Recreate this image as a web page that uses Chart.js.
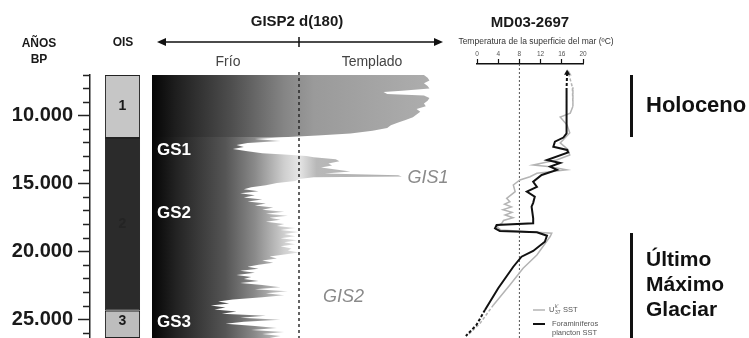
<!DOCTYPE html>
<html lang="es">
<head>
<meta charset="utf-8">
<title>GISP2 d(180) / MD03-2697</title>
<script src="https://cdn.jsdelivr.net/npm/chart.js@4.4.1/dist/chart.umd.min.js"></script>
<style>
  html, body { margin: 0; padding: 0; background: #fff; }
  #fig { position: relative; width: 749px; height: 338px; overflow: hidden; font-family: "Liberation Sans", Arial, Helvetica, sans-serif; color: #1a1a1a; }
  #fig canvas { position: absolute; top: 0; }
  .lbl { position: absolute; white-space: nowrap; transform: translate(-50%, -50%); line-height: 1; }
  .b { font-weight: bold; }
</style>
</head>
<body>
<div id="fig">
  <canvas id="c-ois" width="160" height="360" style="left:0"></canvas>
  <canvas id="c-gisp" width="320" height="360" style="left:140px"></canvas>
  <canvas id="c-sst" width="309" height="360" style="left:440px"></canvas>
  <div class="lbl b" style="left:39px;top:43px;font-size:12px">AÑOS</div>
  <div class="lbl b" style="left:39px;top:59px;font-size:12px">BP</div>
  <div class="lbl b" style="left:123px;top:42px;font-size:12px">OIS</div>
  <div class="lbl b" style="left:297px;top:20px;font-size:15px">GISP2 d(180)</div>
  <div class="lbl" style="left:228px;top:61px;font-size:14px;color:#444">Frío</div>
  <div class="lbl" style="left:372px;top:61px;font-size:14px;color:#444">Templado</div>
  <div class="lbl b" style="left:530px;top:21px;font-size:15px">MD03-2697</div>
  <div class="lbl" style="left:536px;top:41px;font-size:8.5px;color:#333">Temperatura de la superficie del mar (ºC)</div>
</div>
<script>
(function () {
  'use strict';

  var FONT = '"Liberation Sans", Arial, Helvetica, sans-serif';
  Chart.defaults.font.family = FONT;

  // eje de edad (años BP), común a los tres paneles
  var AGE_MIN = 7000, AGE_MAX = 26340;
  var TOP = 75, BOTTOM = 338, CANVAS_H = 360;
  var yrPerPx = (AGE_MAX - AGE_MIN) / (BOTTOM - TOP);
  var ageTicks = [7000, 8000, 9000, 10000, 11000, 12000, 13000, 14000, 15000, 16000, 17000, 18000, 19000,
    20000, 21000, 22000, 23000, 24000, 25000, 26000];

  // estadios isotópicos marinos
  var oisStage = ['1', '2', '3'];
  var oisFrom = [7000, 11630, 24330];
  var oisTo = [11630, 24330, 26340];
  var oisColor = ['#c6c6c6', '#2b2b2b', '#bdbdbd'];

  // GISP2 d18O (‰)
  var gispAge = [7000, 7200, 7400, 7600, 7800, 8000, 8150, 8250, 8400, 8500, 8700, 8900, 9100, 9300, 9500, 9700, 9900,
    10100, 10300, 10500, 10700, 10900, 11100, 11300, 11450, 11560, 11700, 11850, 12000, 12150, 12300, 12450, 12600,
    12750, 12850, 12950, 13050, 13200, 13350, 13500, 13650, 13800, 13950, 14100, 14250, 14380, 14460, 14520, 14650,
    14800, 14950, 15100, 15250, 15400, 15550, 15700, 15850, 16000, 16150, 16300, 16450, 16600, 16750, 16900, 17050,
    17200, 17350, 17500, 17650, 17800, 17950, 18100, 18250, 18400, 18550, 18700, 18850, 19000, 19150, 19300, 19450,
    19600, 19750, 19900, 20050, 20200, 20350, 20500, 20650, 20800, 20950, 21100, 21250, 21400, 21550, 21700, 21850,
    22000, 22150, 22300, 22450, 22600, 22750, 22900, 23050, 23200, 23350, 23500, 23650, 23800, 23950, 24100, 24250,
    24400, 24550, 24700, 24850, 25000, 25150, 25300, 25450, 25600, 25750, 25900, 26050, 26200, 26340];
  var gispD18O = [-34.6, -34.5, -34.45, -34.6, -34.5, -34.45, -35.2, -35.7, -35.6, -34.6, -34.45, -34.5, -34.6, -34.55, -34.8, -34.7, -34.8,
    -34.9, -35.1, -35.3, -35.5, -35.6, -36.0, -36.6, -37.5, -38.3, -39.2, -38.5, -39.4, -39.7, -39.5, -39.8, -39.4,
    -39.0, -38.4, -37.8, -37.6, -37.0, -36.9, -37.2, -37.1, -37.4, -37.0, -36.6, -37.3, -35.3, -35.2, -37.6, -38.0,
    -38.1, -38.6, -38.9, -39.3, -39.5, -39.1, -39.6, -39.2, -39.5, -39.0, -39.4, -38.9, -39.2, -38.7, -39.0, -38.4,
    -38.9, -38.3, -38.8, -38.5, -38.9, -38.4, -38.6, -38.1, -38.5, -38.0, -38.4, -38.1, -38.5, -38.05, -38.4, -38.1,
    -38.5, -38.2, -38.3, -38.0, -38.4, -38.8, -38.6, -39.0, -38.7, -39.1, -39.4, -39.1, -39.6, -39.2, -39.7, -39.3,
    -39.5, -39.1, -39.6, -39.0, -38.5, -39.2, -38.3, -38.9, -38.4, -39.0, -39.8, -40.2, -39.9, -40.4, -40.0, -40.3,
    -39.7, -40.1, -38.9, -39.6, -38.5, -39.5, -40.0, -39.2, -38.6, -39.3, -38.4, -39.0, -38.5, -38.8];
  var HOLOCENE_END = 11560;

  // MD03-2697 SST (ºC)
  var ukAge = [6900, 7900, 9300, 9800, 10090, 10680, 11260, 11990, 12500, 12880, 13250, 13620, 13740, 13980, 14230,
    14480, 14720, 15090, 15580, 16070, 16320, 16500, 16700, 16900, 17100, 17300, 17500, 17700, 17900, 18150, 18400,
    18640, 18880, 20240, 21210, 22440, 23910, 25300, 26150];
  var ukSST = [17.3, 18.0, 18.1, 17.6, 15.7, 17.0, 17.5, 15.7, 17.2, 17.5, 15.0, 10.6, 13.8, 16.9, 11.3,
    10.0, 8.1, 6.85, 7.2, 5.6, 6.2, 5.2, 6.5, 4.9, 6.6, 5.3, 6.8, 5.0, 4.7, 3.7, 4.5,
    14.1, 13.8, 11.3, 8.7, 6.2, 3.1, 0.5, -1.8];
  var foramAge = [6850, 8000, 9200, 10500, 11300, 11600, 11900, 12270, 12510, 12700, 13250, 13470, 13740, 13980,
    14350, 14850, 15220, 15580, 15950, 16400, 16680, 17540, 17900, 18030, 18270, 18470, 18570, 18820, 19260, 19940,
    20360, 21100, 22680, 24280, 25380, 26190];
  var foramSST = [17.0, 16.9, 16.9, 16.9, 16.9, 16.3, 14.7, 14.4, 17.0, 17.2, 13.2, 15.7, 13.8, 15.1,
    12.2, 10.6, 11.3, 9.4, 10.9, 10.6, 10.3, 10.6, 10.6, 3.7, 3.4, 4.3, 11.3, 13.2, 12.8, 10.6,
    8.4, 6.85, 4.0, 1.5, -0.1, -2.1];
  var sstTicks = [0, 4, 8, 12, 16, 20];

  function pts(ages, vals) { return ages.map(function (a, i) { return { x: vals[i], y: a }; }); }
  function fixedTicks(list) {
    return function (s) { s.ticks = list.map(function (v) { return { value: v }; }); };
  }
  var noPlugins = { legend: { display: false }, tooltip: { enabled: false } };

  // ── Eje de edad + columna OIS ──
  var oisLabels = {
    id: 'oisLabels',
    afterDatasetsDraw: function (chart) {
      var ctx = chart.ctx, y = chart.scales.y, cx = chart.scales.x.getPixelForValue(0);
      var at = [9300, 18000, 25100];
      ctx.save();
      ctx.font = 'bold 14px ' + FONT;
      ctx.textAlign = 'center';
      ctx.textBaseline = 'middle';
      oisStage.forEach(function (s, i) {
        ctx.fillStyle = i === 1 ? '#242424' : '#1a1a1a';
        ctx.fillText(s, cx, y.getPixelForValue(at[i]));
      });
      ctx.restore();
    }
  };

  new Chart(document.getElementById('c-ois'), {
    type: 'bar',
    data: {
      labels: ['OIS'],
      datasets: oisStage.map(function (s, i) {
        return { label: 'OIS ' + s, data: [[oisFrom[i], oisTo[i]]], backgroundColor: oisColor[i],
          borderColor: '#222', borderWidth: 1, borderSkipped: false, grouped: false,
          categoryPercentage: 1, barPercentage: 0.54 };
      })
    },
    options: {
      responsive: false, animation: false,
      layout: { padding: { top: TOP, bottom: CANVAS_H - BOTTOM, right: 5 } },
      plugins: noPlugins,
      scales: {
        x: { display: false },
        y: {
          type: 'linear', reverse: true, min: AGE_MIN, max: AGE_MAX,
          afterFit: function (s) { s.width = 90; },
          afterBuildTicks: fixedTicks(ageTicks),
          ticks: {
            autoSkip: false, padding: 5, color: '#1a1a1a',
            font: { size: 20, weight: 'bold' },
            callback: function (v) { return v % 5000 === 0 ? (v / 1000) + '.000' : ''; }
          },
          grid: {
            drawOnChartArea: false, tickLength: 12, tickColor: '#222', tickWidth: 1.5,
            tickBorderDash: function (c) { return c.tick && c.tick.value % 5000 ? [0, 5, 7, 30] : []; }
          },
          border: { color: '#222', width: 1.5 }
        }
      }
    },
    plugins: [oisLabels]
  });

  // ── GISP2 d18O ──
  function gradient(chart, stops) {
    var a = chart.chartArea;
    if (!a) return null;
    var g = chart.ctx.createLinearGradient(a.left, 0, a.right, 0);
    stops.forEach(function (s) { g.addColorStop(s[0], s[1]); });
    return g;
  }
  var holoStops = [[0, '#050505'], [0.08, '#1e1e1e'], [0.27, '#4e4e4e'], [0.45, '#858585'], [0.55, '#9a9a9a'], [1, '#b0b0b0']];
  var glacStops = [[0, '#050505'], [0.08, '#222222'], [0.25, '#555555'], [0.35, '#8a8a8a'], [0.45, '#cfcfcf'],
    [0.5, '#e6e6e6'], [0.56, '#b8b8b8'], [1, '#aaaaaa']];

  var gispAll = pts(gispAge, gispD18O);
  var holo = gispAll.filter(function (p) { return p.y <= HOLOCENE_END; });
  var glac = gispAll.filter(function (p) { return p.y >= HOLOCENE_END; });

  var gispAnnot = {
    id: 'gispAnnot',
    afterDatasetsDraw: function (chart) {
      var ctx = chart.ctx, a = chart.chartArea, x = chart.scales.x, y = chart.scales.y;
      ctx.save();
      // flecha Frío / Templado
      var ay = 42, x0 = a.left + 5, x1 = a.right - 3, xm = x.getPixelForValue(-38);
      ctx.strokeStyle = '#111';
      ctx.fillStyle = '#111';
      ctx.lineWidth = 1.5;
      ctx.beginPath();
      ctx.moveTo(x0 + 6, ay); ctx.lineTo(x1 - 6, ay);
      ctx.moveTo(xm, ay - 5); ctx.lineTo(xm, ay + 5);
      ctx.stroke();
      ctx.beginPath();
      ctx.moveTo(x0, ay); ctx.lineTo(x0 + 9, ay - 4); ctx.lineTo(x0 + 9, ay + 4); ctx.closePath();
      ctx.moveTo(x1, ay); ctx.lineTo(x1 - 9, ay - 4); ctx.lineTo(x1 - 9, ay + 4); ctx.closePath();
      ctx.fill();
      // estadiales
      ctx.fillStyle = '#ffffff';
      ctx.font = 'bold 17px ' + FONT;
      ctx.textBaseline = 'middle';
      [['GS1', 12550], ['GS2', 17150], ['GS3', 25150]].forEach(function (l) {
        ctx.fillText(l[0], a.left + 5, y.getPixelForValue(l[1]));
      });
      // interestadiales
      ctx.fillStyle = '#8a8a8a';
      ctx.font = 'italic 18px ' + FONT;
      ctx.fillText('GIS1', x.getPixelForValue(-35.05), y.getPixelForValue(14560));
      ctx.fillText('GIS2', x.getPixelForValue(-37.35), y.getPixelForValue(23300));
      ctx.restore();
    }
  };

  new Chart(document.getElementById('c-gisp'), {
    type: 'line',
    data: {
      datasets: [
        { label: 'umbral', data: [{ x: -38, y: AGE_MIN - 3 * yrPerPx }, { x: -38, y: AGE_MAX }], borderColor: '#222',
          borderWidth: 1.4, borderDash: [3, 3], pointRadius: 0, fill: false, clip: false },
        { label: 'GISP2 Holoceno', data: holo, fill: { value: -42 }, borderColor: 'rgba(0,0,0,0)', borderWidth: 0,
          pointRadius: 0, backgroundColor: function (c) { return gradient(c.chart, holoStops); } },
        { label: 'GISP2 glacial', data: glac, fill: { value: -42 }, borderColor: 'rgba(0,0,0,0)', borderWidth: 0,
          pointRadius: 0, backgroundColor: function (c) { return gradient(c.chart, glacStops); } }
      ]
    },
    options: {
      indexAxis: 'y', responsive: false, animation: false,
      layout: { padding: { top: TOP, bottom: CANVAS_H - BOTTOM, left: 12, right: 14 } },
      plugins: noPlugins,
      scales: {
        x: { type: 'linear', min: -42, max: -34, display: false },
        y: { type: 'linear', reverse: true, min: AGE_MIN, max: AGE_MAX, display: false }
      }
    },
    plugins: [gispAnnot]
  });

  // ── MD03-2697 SST ──
  var SST_AXIS_Y = 64;
  var SST_AGE_MIN = AGE_MIN - (TOP - SST_AXIS_Y) * yrPerPx;

  function sstSet(label, ages, vals, color, width, tipRotation) {
    var n = ages.length;
    return {
      label: label, data: pts(ages, vals), borderColor: color, backgroundColor: color, borderWidth: width,
      fill: false, clip: false, pointStyle: 'triangle', pointBorderWidth: 0,
      pointRadius: function (c) { return c.dataIndex === 0 || c.dataIndex === n - 1 ? 3.5 : 0; },
      pointRotation: function (c) { return c.dataIndex === 0 ? 0 : tipRotation; },
      segment: { borderDash: function (c) { return c.p0DataIndex < 2 || c.p1DataIndex > n - 3 ? [3, 2] : undefined; } }
    };
  }

  var sstAnnot = {
    id: 'sstAnnot',
    afterDraw: function (chart) {
      var ctx = chart.ctx, a = chart.chartArea, y = chart.scales.y;
      ctx.save();
      // leyenda
      var lx = a.left + 56, ly1 = a.bottom - 28, ly2 = a.bottom - 14;
      ctx.lineWidth = 1.5; ctx.strokeStyle = '#b4b4b4';
      ctx.beginPath(); ctx.moveTo(lx, ly1); ctx.lineTo(lx + 12, ly1); ctx.stroke();
      ctx.lineWidth = 2; ctx.strokeStyle = '#111';
      ctx.beginPath(); ctx.moveTo(lx, ly2); ctx.lineTo(lx + 12, ly2); ctx.stroke();
      ctx.fillStyle = '#555';
      ctx.textBaseline = 'middle';
      ctx.font = '7.5px ' + FONT;
      ctx.fillText('U', lx + 16, ly1);
      ctx.font = '5px ' + FONT;
      ctx.fillText("k'", lx + 22, ly1 - 3);
      ctx.fillText('37', lx + 22, ly1 + 3);
      ctx.font = '7.5px ' + FONT;
      ctx.fillText('SST', lx + 30, ly1);
      ctx.fillText('Foraminíferos', lx + 19, ly2);
      ctx.fillText('plancton SST', lx + 19, ly2 + 9);
      // periodos
      var bx = a.right + 47, tx = a.right + 63;
      ctx.fillStyle = '#111';
      var h0 = y.getPixelForValue(7000), h1 = y.getPixelForValue(HOLOCENE_END);
      var g0 = y.getPixelForValue(18620), g1 = y.getPixelForValue(AGE_MAX);
      ctx.fillRect(bx, h0, 3, h1 - h0);
      ctx.fillRect(bx, g0, 3, g1 - g0);
      ctx.font = 'bold 22px ' + FONT;
      ctx.fillText('Holoceno', tx, (h0 + h1) / 2);
      ctx.font = 'bold 21px ' + FONT;
      var gm = (g0 + g1) / 2;
      ctx.fillText('Último', tx, gm - 25);
      ctx.fillText('Máximo', tx, gm);
      ctx.fillText('Glaciar', tx, gm + 25);
      ctx.restore();
    }
  };

  new Chart(document.getElementById('c-sst'), {
    type: 'line',
    data: {
      datasets: [
        sstSet('Foraminíferos plancton SST', foramAge, foramSST, '#111111', 2, 215),
        sstSet("Uk'37 SST", ukAge, ukSST, '#b4b4b4', 1.5, 215),
        { label: '8 ºC', data: [{ x: 8, y: SST_AGE_MIN }, { x: 8, y: AGE_MAX }], borderColor: '#555', borderWidth: 1,
          borderDash: [2, 2], pointRadius: 0, fill: false }
      ]
    },
    options: {
      indexAxis: 'y', responsive: false, animation: false,
      layout: { padding: { top: 0, bottom: CANVAS_H - BOTTOM, left: 37, right: 166 } },
      plugins: noPlugins,
      scales: {
        x: {
          type: 'linear', position: 'top', min: 0, max: 20,
          afterFit: function (s) { s.height = SST_AXIS_Y; },
          afterBuildTicks: fixedTicks(sstTicks),
          ticks: { padding: 1, color: '#555', font: { size: 6.5 } },
          grid: { drawOnChartArea: false, tickLength: 5, tickColor: '#111', tickWidth: 1.2 },
          border: { color: '#111', width: 1.5 }
        },
        y: { type: 'linear', reverse: true, min: SST_AGE_MIN, max: AGE_MAX, display: false }
      }
    },
    plugins: [sstAnnot]
  });
})();
</script>
</body>
</html>
